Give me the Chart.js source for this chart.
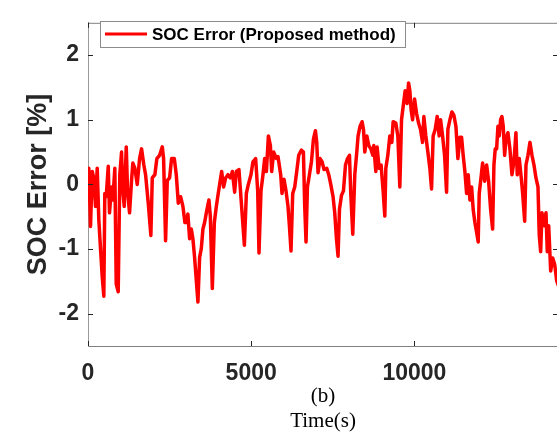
<!DOCTYPE html>
<html lang="en">
  <head>
    <meta charset="UTF-8" />
    <title>SOC Error</title>
    <script src="https://cdn.jsdelivr.net/npm/chart.js"></script>
    <style>
      body { margin: 0; overflow: hidden; background: #fff; }
    </style>
  </head>
  <body>
    <canvas id="myChart" width="562" height="435" style="width: 562px; height: 435px"></canvas>
  </body>
</html>
<script>
  // tick values
  const xTicks = [0, 5000, 10000];
  const yTicks = [-2, -1, 0, 1, 2];

  // time axis (s)
  const timeS = [
    0, 25, 77, 129, 178, 230, 282, 331, 383, 436, 485, 515, 558, 620, 659, 721, 761, 822, 865, 926,
    975, 1028, 1067, 1110, 1172, 1212, 1273, 1334, 1374, 1435, 1509, 1580, 1641, 1711, 1764, 1846, 1926, 1969, 2049, 2110,
    2193, 2276, 2316, 2377, 2429, 2500, 2561, 2644, 2705, 2766, 2837, 2908, 2969,
    3012, 3061, 3113, 3165, 3214, 3266, 3319, 3368, 3420, 3472, 3521, 3573, 3625, 3705, 3748, 3809, 3871, 3932, 3981, 4033,
    4095, 4156, 4217, 4288, 4361, 4423, 4493, 4545, 4625, 4699, 4791, 4852, 4913, 4993, 5054, 5137, 5199, 5239, 5300, 5361,
    5413, 5466, 5527, 5588, 5628, 5689, 5772,
    5821, 5904, 5944, 6005, 6067, 6128, 6171, 6220, 6272, 6334, 6395, 6456, 6539, 6600, 6640, 6680, 6723, 6784, 6846, 6907,
    6968, 7008, 7048, 7110, 7171, 7232, 7315, 7376, 7438, 7508, 7560, 7612, 7661, 7704, 7766, 7827, 7889, 7950, 8011, 8051,
    8112, 8174, 8235, 8275, 8336, 8398, 8441, 8481, 8542, 8603, 8665, 8726,
    8756, 8818, 8858, 8919, 8980, 9042, 9094, 9125, 9186, 9247, 9309, 9349, 9431, 9493, 9554, 9606, 9655, 9717, 9778, 9821,
    9861, 9901, 9944, 10005, 10066, 10128, 10189, 10250, 10290, 10351, 10413, 10474, 10526, 10575, 10637, 10698, 10759, 10802, 10864, 10925,
    10986, 11026, 11088, 11149, 11210, 11272, 11333,
    11394, 11446, 11495, 11547, 11600, 11649, 11701, 11753, 11802, 11854, 11906, 11955, 11986, 12029, 12090, 12152, 12213, 12274, 12336, 12397,
    12437, 12477, 12520, 12560, 12600, 12642, 12682, 12722, 12765, 12805, 12866, 12927, 12989, 13050, 13111, 13152, 13213, 13274, 13317, 13379,
    13419, 13480, 13541, 13603, 13664, 13725, 13787, 13826, 13869, 13909, 13971, 14032, 14072, 14115, 14176, 14238, 14299, 14360, 14400
  ];

  // SOC error (%)
  const socError = [
    0.08, 0.25, -0.65, 0.2, 0.1, -0.34, 0.25, -0.54, -0.99, -1.43, -1.73, -0.14, -0.19, 0.28, -0.44, -0.04, -0.24, 0.25, -1.54, -1.66,
    0.15, 0.5, -0.1, -0.34, 0.58, -0.1, -0.44, 0.06, 0.33, 0.25, 0.0, 0.4, 0.55, 0.3, 0.15, -0.29, -0.79, 0.1, 0.15, 0.4,
    0.45, 0.58, 0.4, -0.87, 0.06, 0.1, 0.4, 0.4, 0.15, -0.29, -0.19, -0.34, -0.59,
    -0.59, -0.46, -0.84, -0.69, -0.84, -1.13, -1.49, -1.82, -1.13, -0.99, -0.69, -0.59, -0.44, -0.24, -0.49, -1.61, -0.59, -0.34, -0.17, 0.0,
    0.2, -0.04, 0.1, 0.15, 0.1, 0.2, -0.12, 0.2, 0.23, -0.29, -0.94, -0.14, 0.0, 0.15, 0.35, 0.4, -0.1, -1.06, -0.1, 0.15,
    0.4, 0.2, 0.75, 0.6, 0.2, 0.5, 0.4,
    0.43, 0.15, -0.14, 0.08, -0.1, -0.34, -0.64, -1.03, -0.14, -0.04, 0.2, 0.45, 0.53, 0.5, -0.34, -0.89, -0.04, 0.15, 0.35, 0.7,
    0.83, 0.65, 0.18, 0.4, 0.35, 0.23, 0.25, 0.15, 0.0, -0.19, -0.44, -0.84, -1.11, -0.39, -0.17, -0.1, 0.3, 0.4, 0.45, -0.14,
    -0.77, 0.15, 0.5, 0.75, 0.9, 0.97, 0.85, 0.5, 0.75, 0.6, 0.55, 0.45,
    0.6, 0.2, 0.58, 0.25, 0.3, -0.1, -0.49, 0.25, 0.45, 0.75, 0.65, 0.97, 0.95, 0.75, -0.04, 1.0, 1.2, 1.45, 1.25, 1.57,
    1.45, 1.15, 1.0, 1.32, 1.1, 0.95, 0.85, 0.65, 1.05, 0.75, 0.5, 0.25, -0.07, 0.75, 0.85, 1.05, 0.75, 1.0, 0.75, 0.45,
    -0.12, 0.85, 1.0, 1.12, 1.07, 0.9, 0.4,
    0.73, 0.73, 0.45, 0.2, -0.14, 0.15, -0.24, -0.04, -0.39, -0.59, -0.74, -0.89, -0.14, 0.05, 0.33, 0.05, 0.3, 0.05, -0.39, -0.69,
    0.3, 0.55, 0.55, 0.9, 0.75, 1.0, 1.05, 0.9, 0.45, 0.7, 0.8, 0.55, 0.15, 0.35, 0.8, 0.15, 0.4, 0.1, -0.14, -0.57,
    0.3, 0.45, 0.65, 0.45, 0.3, 0.1, -0.04, -0.79, -1.04, -0.44, -0.64, -0.44, -1.04, -0.64, -1.34, -1.14, -1.24, -1.49, -1.55
  ];

  const points = timeS.map((t, i) => ({ x: t, y: socError[i] }));

  // matlab style box: inward ticks on all 4 sides + top/right border + legend box
  const boxPlugin = {
    id: "boxPlugin",
    afterDraw(chart) {
      const ctx = chart.ctx;
      const a = chart.chartArea;
      const xs = chart.scales.x;
      const ys = chart.scales.y;
      ctx.save();
      ctx.strokeStyle = "#808080";
      ctx.lineWidth = 1;
      ctx.beginPath();
      ctx.moveTo(a.left, a.top + 0.5);
      ctx.lineTo(a.right, a.top + 0.5);
      ctx.moveTo(a.right - 0.5, a.top);
      ctx.lineTo(a.right - 0.5, a.bottom);
      ctx.stroke();

      ctx.strokeStyle = "#262626";
      ctx.beginPath();
      xTicks.forEach((v) => {
        const px = Math.round(xs.getPixelForValue(v)) + 0.5;
        ctx.moveTo(px, a.bottom);
        ctx.lineTo(px, a.bottom - 5);
        ctx.moveTo(px, a.top);
        ctx.lineTo(px, a.top + 5);
      });
      yTicks.forEach((v) => {
        const py = Math.round(ys.getPixelForValue(v)) + 0.5;
        ctx.moveTo(a.left, py);
        ctx.lineTo(a.left + 5, py);
        ctx.moveTo(a.right, py);
        ctx.lineTo(a.right - 5, py);
      });
      ctx.stroke();

      // legend
      const ds = chart.data.datasets[0];
      ctx.fillStyle = "#fff";
      ctx.fillRect(100, 21, 305, 26);
      ctx.strokeStyle = "#8c8c8c";
      ctx.strokeRect(100.5, 21.5, 305, 26);
      ctx.strokeStyle = ds.borderColor;
      ctx.lineWidth = 3;
      ctx.beginPath();
      ctx.moveTo(105, 34);
      ctx.lineTo(147, 34);
      ctx.stroke();
      ctx.fillStyle = "#000";
      ctx.font = "bold 17px 'Liberation Sans', Arial, sans-serif";
      ctx.textBaseline = "middle";
      ctx.fillText(ds.label, 152, 35);
      ctx.restore();
    },
  };

  const ctx1 = document.getElementById("myChart").getContext("2d");

  new Chart(ctx1, {
    type: "line",
    data: {
      datasets: [
        {
          label: "SOC Error (Proposed method)",
          data: points,
          borderColor: "#ff0000",
          borderWidth: 3.5,
          borderJoinStyle: "round",
          borderCapStyle: "round",
          pointRadius: 0,
          tension: 0,
          fill: false,
        },
      ],
    },
    options: {
      responsive: false,
      animation: false,
      layout: { padding: { top: 9, right: 4, left: 0, bottom: 0 } },
      plugins: {
        legend: { display: false },
        tooltip: { enabled: false },
      },
      scales: {
        x: {
          type: "linear",
          min: 0,
          max: 14400,
          grid: { display: false, drawTicks: false },
          border: { display: true, color: "#808080", width: 1 },
          afterBuildTicks: (s) => { s.ticks = xTicks.map((v) => ({ value: v })); },
          afterFit: (s) => { s.height = 89; },
          ticks: {
            padding: 14,
            color: "#262626",
            callback: (v) => String(v),
            font: { family: "'Liberation Sans', Arial, sans-serif", size: 23, weight: "bold" },
          },
          title: {
            display: true,
            text: ["(b)", "Time(s)"],
            color: "#000",
            font: { family: "'Liberation Serif', 'Times New Roman', serif", size: 21 },
            padding: { top: 0, bottom: 1 },
          },
        },
        y: {
          min: -2.5,
          max: 2.5,
          grid: { display: false, drawTicks: false },
          border: { display: true, color: "#9a9a9a", width: 1 },
          afterBuildTicks: (s) => { s.ticks = yTicks.map((v) => ({ value: v })); },
          afterFit: (s) => { s.width = 88; },
          ticks: {
            padding: 9,
            color: "#262626",
            font: { family: "'Liberation Sans', Arial, sans-serif", size: 23, weight: "bold" },
          },
          title: {
            display: true,
            text: "SOC Error [%]",
            color: "#262626",
            font: { family: "'Liberation Sans', Arial, sans-serif", size: 27, weight: "bold" },
            padding: { top: 22, bottom: 0 },
          },
        },
      },
    },
    plugins: [boxPlugin],
  });
</script>
